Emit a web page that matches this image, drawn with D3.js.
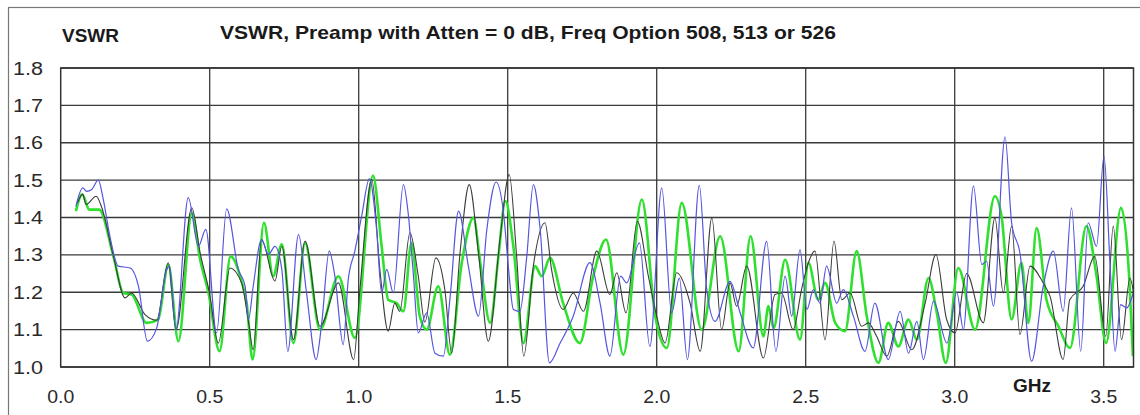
<!DOCTYPE html>
<html>
<head>
<meta charset="utf-8">
<script src="https://cdn.jsdelivr.net/npm/d3@7"></script>
<style>
  html, body { margin: 0; padding: 0; background: #fff; }
  svg { display: block; font-family: "Liberation Sans", Arial, sans-serif; }
</style>
</head>
<body>
<svg id="chart" width="1140" height="415"></svg>
<script>
// ---- data (frequency in GHz, VSWR) ----
const xTicks = [0.0, 0.5, 1.0, 1.5, 2.0, 2.5, 3.0, 3.5];
const yTicks = [1.0, 1.1, 1.2, 1.3, 1.4, 1.5, 1.6, 1.7, 1.8];

const blackFreq = [0.056,0.074,0.085,0.119,0.138,0.177,0.216,0.238,0.283,0.322,0.361,0.387,0.440,0.468,0.498,0.529,0.568,0.607,0.630,0.646,0.674,0.719,0.742,0.781,0.820,0.870,0.932,0.983,1.004,1.044,1.071,1.099,1.121,1.138,1.172,1.200,1.222,1.259,1.289,1.312,1.340,1.371,1.402,1.435,1.474,1.505,1.530,1.554,1.586,1.625,1.647,1.686,1.720,1.754,1.799,1.843,1.866,1.897,1.935,1.972,2.000,2.028,2.067,2.112,2.146,2.185,2.218,2.246,2.268,2.302,2.358,2.397,2.419,2.458,2.486,2.509,2.531,2.565,2.595,2.621,2.649,2.688,2.710,2.738,2.772,2.811,2.856,2.901,2.937,2.973,3.001,3.040,3.096,3.135,3.163,3.191,3.219,3.253,3.297,3.320,3.364,3.386,3.431,3.470,3.507,3.532,3.560,3.588,3.600];
const blackVswr = [1.439,1.462,1.435,1.457,1.426,1.296,1.185,1.198,1.140,1.125,1.279,1.100,1.426,1.305,1.203,1.064,1.265,1.225,1.122,1.046,1.341,1.230,1.323,1.073,1.337,1.109,1.225,1.020,1.207,1.502,1.261,1.096,1.171,1.149,1.359,1.243,1.120,1.292,1.207,1.037,1.305,1.488,1.305,1.069,1.341,1.515,1.296,1.029,1.270,1.386,1.261,1.154,1.198,1.149,1.310,1.194,1.252,1.145,1.390,1.243,1.136,1.064,1.252,1.171,1.042,1.399,1.100,1.225,1.163,1.270,1.024,1.194,1.198,1.100,1.207,1.279,1.310,1.073,1.337,1.180,1.198,1.109,1.118,1.082,1.029,1.122,1.046,1.171,1.301,1.127,1.091,1.250,1.118,1.399,1.198,1.377,1.087,1.270,1.225,1.189,1.020,1.180,1.216,1.296,1.082,1.377,1.073,1.238,1.200];

const blueFreq = [0.051,0.074,0.087,0.104,0.126,0.143,0.165,0.193,0.233,0.261,0.291,0.322,0.356,0.365,0.387,0.428,0.462,0.487,0.523,0.557,0.596,0.619,0.630,0.646,0.674,0.697,0.719,0.742,0.762,0.798,0.825,0.857,0.876,0.901,0.920,0.948,0.965,0.987,1.010,1.036,1.060,1.077,1.094,1.116,1.150,1.166,1.183,1.200,1.228,1.256,1.284,1.307,1.335,1.368,1.402,1.430,1.461,1.486,1.503,1.519,1.541,1.564,1.586,1.609,1.640,1.676,1.720,1.776,1.810,1.843,1.879,1.899,1.942,1.977,2.017,2.050,2.076,2.103,2.143,2.168,2.196,2.246,2.280,2.324,2.369,2.400,2.431,2.453,2.481,2.504,2.526,2.548,2.570,2.604,2.626,2.660,2.699,2.732,2.777,2.817,2.845,2.873,2.895,2.929,2.974,3.007,3.029,3.063,3.091,3.107,3.130,3.169,3.191,3.219,3.258,3.297,3.331,3.364,3.392,3.423,3.448,3.476,3.501,3.521,3.538,3.557,3.577,3.599];
const blueVswr = [1.430,1.479,1.470,1.475,1.500,1.448,1.350,1.270,1.265,1.216,1.069,1.104,1.261,1.270,1.100,1.453,1.323,1.368,1.091,1.423,1.261,1.216,1.127,1.216,1.341,1.301,1.323,1.261,1.042,1.354,1.198,1.020,1.118,1.310,1.243,1.060,1.234,1.310,1.404,1.504,1.368,1.198,1.261,1.198,1.488,1.412,1.252,1.091,1.145,1.037,1.029,1.189,1.417,1.270,1.136,1.368,1.495,1.412,1.261,1.154,1.149,1.296,1.488,1.368,1.011,1.064,1.136,1.279,1.171,1.029,1.243,1.225,1.332,1.055,1.479,1.145,1.238,1.020,1.486,1.207,1.122,1.229,1.145,1.051,1.337,1.042,1.243,1.136,1.314,1.154,1.207,1.171,1.270,1.171,1.207,1.136,1.042,1.171,1.020,1.149,1.037,1.122,1.020,1.176,1.064,1.200,1.100,1.484,1.274,1.283,1.163,1.616,1.386,1.305,1.015,1.216,1.310,1.149,1.426,1.042,1.386,1.323,1.564,1.279,1.042,1.167,1.158,1.198];

const greenFreq = [0.051,0.072,0.096,0.129,0.177,0.210,0.238,0.288,0.327,0.361,0.395,0.440,0.468,0.496,0.533,0.570,0.607,0.624,0.644,0.682,0.713,0.742,0.781,0.820,0.870,0.932,0.987,1.048,1.077,1.099,1.127,1.150,1.177,1.205,1.228,1.267,1.306,1.346,1.385,1.408,1.441,1.469,1.492,1.519,1.553,1.592,1.614,1.642,1.686,1.742,1.787,1.830,1.888,1.950,1.995,2.034,2.084,2.151,2.213,2.275,2.315,2.358,2.375,2.392,2.431,2.481,2.509,2.542,2.565,2.599,2.632,2.671,2.705,2.744,2.777,2.811,2.845,2.873,2.912,2.940,2.970,3.012,3.068,3.135,3.157,3.191,3.224,3.247,3.275,3.308,3.348,3.387,3.442,3.476,3.508,3.558,3.586,3.598];
const greenVswr = [1.417,1.462,1.421,1.421,1.296,1.198,1.194,1.118,1.127,1.274,1.069,1.412,1.287,1.198,1.042,1.296,1.229,1.171,1.020,1.386,1.243,1.328,1.064,1.332,1.100,1.243,1.078,1.512,1.323,1.180,1.171,1.149,1.332,1.136,1.100,1.216,1.033,1.279,1.399,1.279,1.118,1.296,1.444,1.323,1.064,1.270,1.243,1.292,1.171,1.064,1.243,1.341,1.033,1.448,1.136,1.051,1.439,1.100,1.350,1.042,1.350,1.082,1.163,1.104,1.287,1.073,1.279,1.180,1.225,1.118,1.096,1.310,1.136,1.011,1.118,1.055,1.127,1.073,1.238,1.145,1.011,1.265,1.100,1.457,1.404,1.127,1.279,1.118,1.372,1.180,1.109,1.051,1.377,1.243,1.064,1.426,1.234,1.029];

// ---- layout ----
const svg = d3.select("#chart");
const pLeft = 60.7, pRight = 1133.5, pTop = 68, pBottom = 367;
const x = d3.scaleLinear().domain([0, 3.6]).range([pLeft, pRight]);
const y = d3.scaleLinear().domain([1.0, 1.8]).range([pBottom, pTop]);

// outer border
svg.append("rect").attr("x", 8.5).attr("y", 7.5).attr("width", 1200).attr("height", 500)
  .attr("fill", "none").attr("stroke", "#777").attr("stroke-width", 1.2);

// grid
const grid = svg.append("g");
grid.selectAll("line.h").data(yTicks).join("line")
  .attr("x1", pLeft).attr("x2", pRight)
  .attr("y1", d => y(d)).attr("y2", d => y(d))
  .attr("stroke", "#3a3a3a").attr("stroke-width", 1.3);
grid.selectAll("line.v").data(xTicks.filter(d => d > 0)).join("line")
  .attr("y1", pTop).attr("y2", pBottom)
  .attr("x1", d => x(d)).attr("x2", d => x(d))
  .attr("stroke", "#3a3a3a").attr("stroke-width", 1.3);

// clip
svg.append("clipPath").attr("id", "clip").append("rect")
  .attr("x", pLeft).attr("y", pTop - 2).attr("width", pRight - pLeft).attr("height", pBottom - pTop + 2);

const line = d3.line().x(d => x(d[0])).y(d => y(d[1])).curve(d3.curveMonotoneX);
const zip = (a, b) => a.map((v, i) => [v, b[i]]);

const plot = svg.append("g").attr("clip-path", "url(#clip)");
plot.append("path").datum(zip(greenFreq, greenVswr)).attr("d", line)
  .attr("fill", "none").attr("stroke", "#2fe02f").attr("stroke-width", 2.6).attr("stroke-linejoin", "round");
plot.append("path").datum(zip(blackFreq, blackVswr)).attr("d", line)
  .attr("fill", "none").attr("stroke", "#3c3c3c").attr("stroke-width", 1.1).attr("stroke-linejoin", "round");
plot.append("path").datum(zip(blueFreq, blueVswr)).attr("d", line)
  .attr("fill", "none").attr("stroke", "#5555e0").attr("stroke-width", 1.2).attr("stroke-linejoin", "round");

// frame
svg.append("rect").attr("x", pLeft).attr("y", pTop).attr("width", pRight - pLeft).attr("height", pBottom - pTop)
  .attr("fill", "none").attr("stroke", "#333").attr("stroke-width", 1.5);

// y tick labels
svg.append("g").selectAll("text").data(yTicks).join("text")
  .attr("x", 43).attr("y", d => y(d) + 6.5)
  .attr("text-anchor", "end").attr("font-size", 18).attr("fill", "#2a2a2a")
  .attr("textLength", 30).attr("lengthAdjust", "spacingAndGlyphs")
  .text(d => d.toFixed(1));

// x tick labels
svg.append("g").selectAll("text").data(xTicks).join("text")
  .attr("x", d => x(d) - 13.5).attr("y", 403)
  .attr("font-size", 18).attr("fill", "#2a2a2a")
  .attr("textLength", 27).attr("lengthAdjust", "spacingAndGlyphs")
  .text(d => d.toFixed(1));

// titles
svg.append("text").attr("x", 62).attr("y", 42).attr("font-size", 19).attr("font-weight", "bold")
  .attr("fill", "#1a1a1a").text("VSWR");
svg.append("text").attr("x", 220).attr("y", 39).attr("font-size", 19).attr("font-weight", "bold")
  .attr("fill", "#1a1a1a").attr("textLength", 616).attr("lengthAdjust", "spacingAndGlyphs")
  .text("VSWR, Preamp with Atten = 0 dB, Freq Option 508, 513 or 526");
svg.append("text").attr("x", 1013).attr("y", 392).attr("font-size", 19).attr("font-weight", "bold")
  .attr("fill", "#1a1a1a").text("GHz");
</script>
</body>
</html>
